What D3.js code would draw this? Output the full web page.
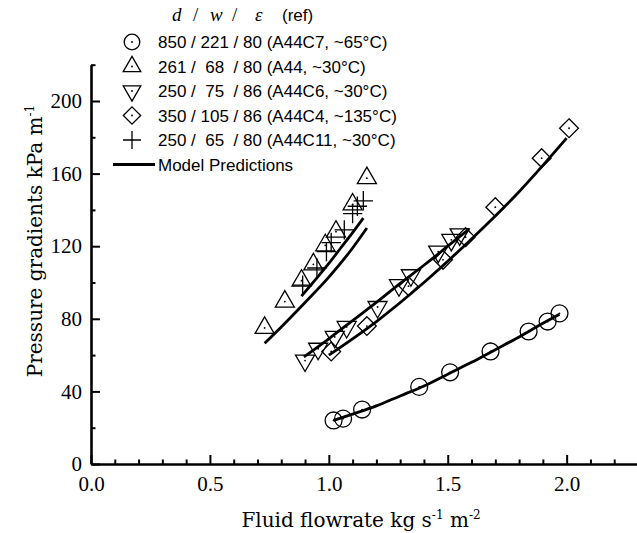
<!DOCTYPE html>
<html>
<head>
<meta charset="utf-8">
<script src="https://cdnjs.cloudflare.com/ajax/libs/d3/7.8.5/d3.min.js"></script>
<style>
  body { margin: 0; background: #fff; }
  svg { display: block; }
  .tick text { font-family: 'Liberation Serif', 'Times New Roman', serif; font-size: 21px; fill: #000; }
  .legend text { font-family: 'Liberation Sans', Arial, sans-serif; font-size: 17px; white-space: pre; }
  .title { font-family: 'DejaVu Serif', serif; font-size: 20px; }
</style>
</head>
<body>
<div id="chart"></div>
<script>
const width = 637;
const height = 533;

// 850/221/80 (A44C7), circles
const circX = [1.02, 1.06, 1.14, 1.38, 1.51, 1.68, 1.84, 1.92, 1.97];
const circY = [24, 25, 30, 42.5, 50.5, 62, 73, 78.5, 83];
// 261/68/80 (A44), up triangles
const triX = [0.73, 0.815, 0.885, 0.935, 0.985, 1.03, 1.10, 1.16];
const triY = [75, 89.5, 101, 110, 120.5, 128, 143, 157.5];
// 250/75/86 (A44C6), down triangles
const dtriX = [0.90, 0.955, 1.025, 1.075, 1.205, 1.295, 1.345, 1.46, 1.515, 1.55];
const dtriY = [57, 63.5, 70, 75.5, 86.5, 98.5, 104, 117, 123.5, 126.5];
// 350/105/86 (A44C4), diamonds
const diaX = [1.01, 1.16, 1.335, 1.48, 1.575, 1.70, 1.895, 2.01];
const diaY = [62, 76, 98, 112.5, 125, 141.5, 168.5, 185];
// 250/65/80 (A44C11), plus
const plusX = [0.89, 0.95, 0.99, 1.01, 1.065, 1.10, 1.12, 1.145];
const plusY = [98.5, 108, 117, 122, 129, 138, 142, 145];

// model predictions
const mCircX = [1.02, 1.1, 1.2, 1.3, 1.4, 1.5, 1.6, 1.7, 1.8, 1.9, 1.97];
const mCircY = [24, 27.5, 32, 37.5, 43, 49.5, 56, 63, 70, 77.5, 82.5];
const mTriX = [0.73, 0.8, 0.9, 1.0, 1.1, 1.16];
const mTriY = [66.5, 75.5, 89, 103, 119, 130];
const mPlusX = [0.885, 0.95, 1.0, 1.05, 1.1, 1.145];
const mPlusY = [92.5, 102.5, 110.5, 119, 127.5, 135.5];
const mDtriX = [0.895, 1.0, 1.1, 1.2, 1.3, 1.4, 1.5, 1.59];
const mDtriY = [59, 69, 79, 89, 99.5, 109.5, 120, 129.5];
const mDiaX = [1.0, 1.2, 1.4, 1.6, 1.8, 2.0];
const mDiaY = [60, 78.5, 100, 124, 150, 179.5];

const xMajor = [0, 0.5, 1.0, 1.5, 2.0];
const xMinor = [0.1, 0.2, 0.3, 0.4, 0.6, 0.7, 0.8, 0.9, 1.1, 1.2, 1.3, 1.4, 1.6, 1.7, 1.8, 1.9, 2.1, 2.2, 2.3];
const yMajor = [0, 40, 80, 120, 160, 200];
const yMinor = [20, 60, 100, 140, 180, 220];

const legendLabels = [
	'850 / 221 / 80 (A44C7, ~65°C)',
	'261 /  68  / 80 (A44, ~30°C)',
	'250 /  75  / 86 (A44C6, ~30°C)',
	'350 / 105 / 86 (A44C4, ~135°C)',
	'250 /  65  / 80 (A44C11, ~30°C)',
	'Model Predictions'
];

const x = d3.scaleLinear().domain([0, 2.3]).range([91, 638]);
const y = d3.scaleLinear().domain([0, 220]).range([464, 64.7]);

const svg = d3.select('#chart').append('svg')
	.attr('width', width)
	.attr('height', height);

const zip = (xs, ys) => xs.map((v, i) => [v, ys[i]]);

const series = [
	{ pts: zip(circX, circY), type: d3.symbolCircle, size: 225, rot: 0, dot: true },
	{ pts: zip(triX, triY), type: d3.symbolTriangle2, size: 260, rot: 0, dot: true },
	{ pts: zip(dtriX, dtriY), type: d3.symbolTriangle2, size: 260, rot: 180, dot: true },
	{ pts: zip(diaX, diaY), type: d3.symbolDiamond2, size: 225, rot: 0, dot: true },
	{ pts: zip(plusX, plusY), type: d3.symbolPlus, size: 125, rot: 0, dot: false }
];

const models = [
	zip(mCircX, mCircY),
	zip(mTriX, mTriY),
	zip(mPlusX, mPlusY),
	zip(mDtriX, mDtriY),
	zip(mDiaX, mDiaY)
];

// axes
const xAxis = svg.append('g')
	.attr('transform', `translate(0,${y(0)})`)
	.call(d3.axisBottom(x).tickValues(xMajor).tickFormat(d3.format('.1f'))
		.tickSizeInner(-9).tickSizeOuter(0).tickPadding(12));
xAxis.select('.domain').attr('stroke-width', 2.6);
xAxis.selectAll('.tick line').attr('stroke-width', 2);

svg.append('g')
	.attr('transform', `translate(0,${y(0)})`)
	.call(d3.axisBottom(x).tickValues(xMinor).tickFormat('').tickSizeInner(-4.5).tickSizeOuter(0))
	.call((g) => g.select('.domain').remove())
	.selectAll('.tick line').attr('stroke-width', 2);

const yAxis = svg.append('g')
	.attr('transform', `translate(${x(0)},0)`)
	.call(d3.axisLeft(y).tickValues(yMajor).tickFormat(d3.format('d'))
		.tickSizeInner(-9).tickSizeOuter(0).tickPadding(9));
yAxis.select('.domain').attr('stroke-width', 2.6);
yAxis.selectAll('.tick line').attr('stroke-width', 2);

svg.append('g')
	.attr('transform', `translate(${x(0)},0)`)
	.call(d3.axisLeft(y).tickValues(yMinor).tickFormat('').tickSizeInner(-4.5).tickSizeOuter(0))
	.call((g) => g.select('.domain').remove())
	.selectAll('.tick line').attr('stroke-width', 2);

// axis titles
const xt = svg.append('text').attr('class', 'title')
	.attr('x', 361).attr('y', 527).attr('text-anchor', 'middle');
xt.append('tspan').text('Fluid flowrate kg s');
xt.append('tspan').attr('dy', -8).attr('font-size', 12).text('-1');
xt.append('tspan').attr('dy', 8).text(' m');
xt.append('tspan').attr('dy', -8).attr('font-size', 12).text('-2');

const yt = svg.append('text').attr('class', 'title')
	.attr('transform', 'translate(42,241) rotate(-90)')
	.attr('text-anchor', 'middle');
yt.append('tspan').text('Pressure gradients kPa m');
yt.append('tspan').attr('dy', -8).attr('font-size', 12).text('-1');

// markers
series.forEach((s) => {
	const sym = d3.symbol().type(s.type).size(s.size);
	const g = svg.append('g');
	g.selectAll('path')
		.data(s.pts)
		.enter()
		.append('path')
		.attr('d', sym)
		.attr('transform', (d) => `translate(${x(d[0])},${y(d[1])}) rotate(${s.rot})`)
		.attr('fill', 'none')
		.attr('stroke', '#000')
		.attr('stroke-width', 1.3);
	if (s.dot) {
		g.selectAll('circle')
			.data(s.pts)
			.enter()
			.append('circle')
			.attr('cx', (d) => x(d[0]))
			.attr('cy', (d) => y(d[1]))
			.attr('r', 0.9)
			.attr('fill', '#000');
	}
});

// model lines
const line = d3.line()
	.x((d) => x(d[0]))
	.y((d) => y(d[1]))
	.curve(d3.curveMonotoneX);

svg.append('g')
	.selectAll('path')
	.data(models)
	.enter()
	.append('path')
	.attr('d', line)
	.attr('fill', 'none')
	.attr('stroke', '#000')
	.attr('stroke-width', 2.8);

// legend
const leg = svg.append('g').attr('class', 'legend');
const headFont = "'Liberation Serif', serif";
[['d', 172, true], ['/', 193, false], ['w', 210, true], ['/', 232, false], ['ε', 255, true]]
	.forEach(([t, px, it]) => {
		leg.append('text')
			.attr('x', px).attr('y', 21)
			.style('font-family', headFont)
			.style('font-style', it ? 'italic' : 'normal')
			.style('font-size', '19px')
			.text(t);
	});
leg.append('text').attr('x', 282).attr('y', 21).text('(ref)');

const rowY = [42, 66.5, 91, 115.5, 140, 164.5];
series.forEach((s, i) => {
	const sym = d3.symbol().type(s.type).size(s.size * 0.85);
	leg.append('path')
		.attr('d', sym)
		.attr('transform', `translate(132,${rowY[i]}) rotate(${s.rot})`)
		.attr('fill', 'none')
		.attr('stroke', '#000')
		.attr('stroke-width', 1.3);
	if (s.dot) {
		leg.append('circle').attr('cx', 132).attr('cy', rowY[i]).attr('r', 0.9);
	}
});
leg.append('line')
	.attr('x1', 113).attr('x2', 155)
	.attr('y1', rowY[5]).attr('y2', rowY[5])
	.attr('stroke', '#000').attr('stroke-width', 2.8);

leg.selectAll('text.lab')
	.data(legendLabels)
	.enter()
	.append('text')
	.attr('class', 'lab')
	.attr('x', 158)
	.attr('y', (d, i) => rowY[i])
	.attr('dy', '0.36em')
	.text((d) => d);
</script>
</body>
</html>
